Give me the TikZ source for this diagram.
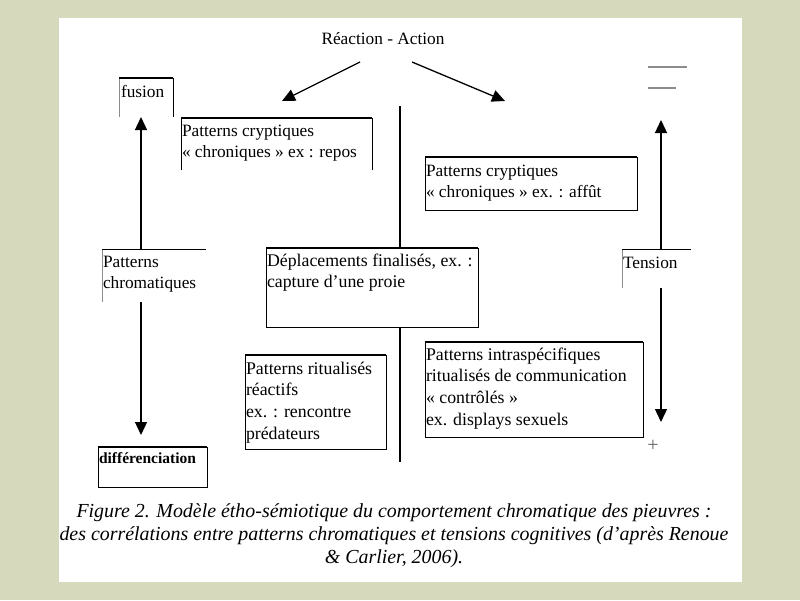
\documentclass[tikz,border=0pt]{standalone}
\usepackage{fontspec}
\setmainfont{Liberation Serif}
\usetikzlibrary{arrows.meta}
\definecolor{bgc}{RGB}{215,217,189}
\definecolor{grayline}{RGB}{140,140,140}
\definecolor{plusgray}{RGB}{100,100,100}
\newcommand{\bodysize}{\fontsize{17.3}{21.7}\selectfont}
\newcommand{\widesize}{\fontsize{17.8}{21.7}\selectfont}
\begin{document}
\begin{tikzpicture}[x=1pt,y=-1pt,
  area/.style={shape=rectangle,inner sep=0pt,outer sep=0pt,anchor=north west,draw=none},
  txt/.style={inner sep=0pt,outer sep=0pt,anchor=base west,font=\bodysize},
  arr/.style={line width=1.3pt,-{Triangle[length=13pt,width=12pt]}},
  conn/.style={line width=1.3pt},
  topline/.style={line width=1.8pt},
  side/.style={line width=0.9pt},
  grayside/.style={line width=0.8pt,draw=grayline}]

\useasboundingbox (0,0) rectangle (800,600);
\fill[bgc] (0,0) rectangle (800,600);
\fill[white] (59,18) rectangle (742,582);

% box areas
\node[area,minimum width=54pt,minimum height=39pt] (fusion) at (119,78) {};
\node[area,minimum width=191pt,minimum height=52pt] (crypt1) at (181,118) {};
\node[area,minimum width=212pt,minimum height=53pt] (crypt2) at (425,157) {};
\node[area,minimum width=104pt,minimum height=53pt] (pchrom) at (102,249) {};
\node[area,minimum width=212pt,minimum height=79pt] (dep) at (266,248) {};
\node[area,minimum width=69pt,minimum height=39pt] (tension) at (622,249) {};
\node[area,minimum width=141pt,minimum height=94pt] (ritu) at (245,355) {};
\node[area,minimum width=218pt,minimum height=95pt] (intra) at (425,342) {};
\node[area,minimum width=109pt,minimum height=40pt] (diff) at (98,447) {};

% borders
\draw[grayside] (fusion.south west) -- (fusion.north west);
\draw[side] (fusion.north east) -- (fusion.south east);
\draw[topline] (fusion.north west) -- (fusion.north east);

\draw[side] (crypt1.south west) -- (crypt1.north west);
\draw[side] (crypt1.north east) -- (crypt1.south east);
\draw[topline] (crypt1.north west) -- (crypt1.north east);

\draw[side] (crypt2.north west) rectangle (crypt2.south east);
\draw[topline] (crypt2.north west) -- (crypt2.north east);

\draw[grayside] (pchrom.south west) -- (pchrom.north west);
\draw[side] (pchrom.north west) -- (pchrom.north east);

\draw[side] (dep.north west) rectangle (dep.south east);
\draw[topline] (dep.north west) -- (dep.north east);

\draw[grayside] (tension.south west) -- (tension.north west);
\draw[side] (tension.north west) -- (tension.north east);

\draw[side] (ritu.north west) rectangle (ritu.south east);
\draw[topline] (ritu.north west) -- (ritu.north east);

\draw[side] (intra.north west) rectangle (intra.south east);
\draw[topline] (intra.north west) -- (intra.north east);

\draw[side] (diff.north west) rectangle (diff.south east);
\draw[topline] (diff.north west) -- (diff.north east);

% texts
\node[font=\bodysize,inner sep=0pt,anchor=base] (title) at (383,44) {Réaction - Action};
\node[txt] (tfusion) at (121,97) {fusion};
\node[txt] (tcrypt1) at (182,136) {\parbox[t]{300pt}{\raggedright Patterns cryptiques\\« chroniques » ex : repos}};
\node[txt] (tcrypt2) at (426,176) {\parbox[t]{300pt}{\raggedright Patterns cryptiques\\« chroniques » ex. : affût}};
\node[txt] (tpchrom) at (103,267) {\parbox[t]{300pt}{\raggedright Patterns\\chromatiques}};
\node[txt,font=\widesize] (tdep) at (267,266) {\parbox[t]{300pt}{\raggedright Déplacements finalisés, ex. :\\capture d’une proie}};
\node[txt] (ttension) at (623,268) {Tension};
\node[txt,font=\widesize] (tritu) at (246,374) {\parbox[t]{300pt}{\raggedright Patterns ritualisés\\réactifs\\ex. : rencontre\\prédateurs}};
\node[txt,font=\widesize] (tintra) at (426,360) {\parbox[t]{300pt}{\raggedright Patterns intraspécifiques\\ritualisés de communication\\« contrôlés »\\ex. displays sexuels}};
\node[txt,font=\fontsize{15.5}{18}\selectfont\bfseries] (tdiff) at (99,463) {différenciation};
\node[inner sep=0pt,font=\fontsize{20}{22}\selectfont,text=plusgray] (plus) at (653,446) {+};

% top-right short lines
\coordinate (tla) at (648,67); \coordinate (tlb) at (687,67);
\coordinate (tlc) at (648,88); \coordinate (tld) at (676,88);
\draw[line width=1.4pt,grayline] (tla) -- (tlb);
\draw[line width=1.4pt,grayline] (tlc) -- (tld);

% connectors
\coordinate (la0) at (360,62); \coordinate (la1) at (282,101);
\coordinate (ra0) at (412,62); \coordinate (ra1) at (505,101);
\draw[arr] (la0) -- (la1);
\draw[arr] (ra0) -- (ra1);

\coordinate (ctop) at (400,106); \coordinate (cbot) at (400,462);
\draw[conn] (ctop) -- (ctop |- dep.north);
\draw[conn] (ctop |- dep.south) -- (cbot);

\coordinate (lx) at (141,0); \coordinate (ldtip) at (141,435);
\draw[arr] (lx |- pchrom.north) -- (lx |- fusion.south);
\draw[arr] (lx |- pchrom.south) -- (ldtip);

\coordinate (rx) at (661,0); \coordinate (rutip) at (661,120); \coordinate (rdtip) at (661,422);
\draw[arr] (rx |- tension.north) -- (rutip);
\draw[arr] (rx |- tension.south) -- (rdtip);

% caption
\node[inner sep=0pt,anchor=base] (caption) at (394,517) {\parbox[t]{730pt}{\centering\fontsize{19.9}{23}\selectfont\itshape Figure 2. Modèle étho-sémiotique du comportement chromatique des pieuvres :\\des corrélations entre patterns chromatiques et tensions cognitives (d’après Renoue\\\& Carlier, 2006).}};
\end{tikzpicture}
\end{document}
